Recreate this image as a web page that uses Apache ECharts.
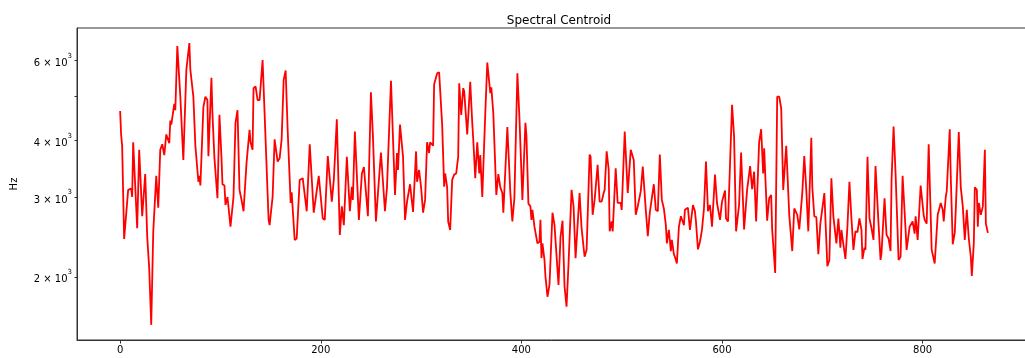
<!DOCTYPE html>
<html>
<head>
<meta charset="utf-8">
<script src="https://cdn.jsdelivr.net/npm/echarts@6/dist/echarts.min.js"></script>
<style>
html,body{margin:0;padding:0;background:#fff;}
#chart{width:1025px;height:358px;}
</style>
</head>
<body>
<div id="chart"></div>
<script>
const chartTitle = 'Spectral Centroid';
const yName = 'Hz';
const xTicks = [0, 200, 400, 600, 800];
const yTickValues = [2000, 3000, 4000, 5000, 6000];
const yLabelValues = [2000, 3000, 4000, 6000];
const frames = [0,1,2,4,8,11,12,13,17,19,22,25,27,29,31,33,36,38,40,42,44,46,49,50,51,54,55,57,60,63,66,67,69,70,73,75,78,79,80,83,85,87,88,91,92,94,97,99,101,102,104,105,107,110,113,115,117,119,121,123,126,129,130,132,133,135,137,139,142,144,148,149,152,154,157,159,161,163,165,167,170,171,174,176,179,182,186,189,193,198,202,204,207,211,213,216,219,221,223,226,229,231,232,234,238,241,243,247,250,252,255,257,260,264,266,270,274,276,277,279,282,284,286,287,289,292,295,296,298,300,302,304,306,308,309,312,313,316,318,321,323,324,326,327,329,331,333,335,337,338,340,342,343,346,349,351,352,354,356,358,359,361,364,366,369,370,372,375,377,379,381,382,386,389,391,393,396,398,401,404,405,407,409,410,411,413,414,416,418,419,420,421,423,424,425,426,428,431,433,434,437,439,441,443,445,447,450,452,454,458,460,461,463,465,468,469,471,473,474,476,478,480,482,483,485,487,488,490,491,494,496,499,500,503,506,509,510,512,514,516,519,521,524,526,528,529,532,534,536,538,540,542,544,545,547,549,550,552,553,555,557,559,562,563,566,568,571,573,574,576,578,580,582,584,586,588,590,593,595,598,600,601,603,604,606,610,612,614,617,619,622,625,628,630,632,634,637,639,641,642,645,647,649,650,653,655,657,659,661,664,667,668,670,672,675,677,680,682,684,686,689,690,692,694,696,698,699,702,705,707,709,711,714,715,716,718,719,720,723,725,727,729,731,733,735,737,739,740,742,743,745,747,749,751,753,756,758,759,762,764,766,768,769,771,773,776,778,780,783,784,787,788,790,792,793,795,796,798,801,802,804,806,809,810,812,815,817,818,820,821,823,824,827,828,830,832,833,836,838,840,842,844,846,848,849,851,852,854,855,856,858,860,862,863,865];
const centroid = [4640,4110,3890,2425,3110,3130,3000,3960,2560,3810,2720,3370,2450,2085,1568,2510,3340,2840,3810,3920,3710,4120,3940,4420,4330,4810,4660,6450,4990,3620,5715,5670,6550,5715,4990,3890,3240,3340,3180,4740,4990,4907,3690,5490,4590,3655,2980,4550,3680,3200,3180,2880,3000,2580,3000,4370,4660,3110,2956,2790,3565,4215,3960,3810,5210,5260,4907,4907,6012,4590,2671,2600,3000,4020,3590,3650,4020,5432,5700,4215,2910,3070,2413,2430,3271,3300,2790,3920,2770,3340,2690,2671,3690,2930,3271,4450,2475,2860,2600,3680,2790,3160,2956,4180,2671,3380,3490,2720,5100,4080,2650,3060,3760,2790,3150,5410,3030,3750,3440,4330,3680,2671,2930,2956,3200,2780,3780,3240,3440,3150,2770,2956,3960,3750,3960,3890,5310,5620,5650,4330,3160,3380,3150,2650,2538,3271,3360,3380,3680,5340,4550,5210,5120,4120,5380,4370,4020,3300,3960,3380,3710,3000,4590,5930,5080,5230,4590,3030,3370,3150,3060,2770,4280,3060,2650,2980,5620,4510,2956,4370,4100,2900,2860,2671,2810,2580,2600,2370,2390,2671,2200,2370,2180,2003,2020,1808,1920,2770,2600,2600,1920,2450,2660,1905,1720,2140,3110,2860,2200,3060,2560,2580,2215,2294,3720,3680,2740,2956,2930,3530,2930,2930,3060,3110,3780,3450,2520,2650,2520,3470,2910,2910,2810,4180,3060,3810,3840,3621,2740,2860,3090,3500,2810,2460,2770,2790,3200,2810,2790,3720,2956,2830,2600,2370,2538,2280,2413,2245,2215,2140,2580,2720,2600,2810,2840,2538,2880,2790,2650,2300,2390,2538,2830,3590,2790,2880,2580,3360,2910,2671,2930,2930,3100,2690,2650,4790,4080,2520,2880,3760,2545,3110,3510,3120,3410,2650,3960,4230,3380,3840,2660,2980,3030,2538,2040,4990,4990,4700,3110,3890,2740,2720,2280,2830,2740,2545,3060,3690,3110,2520,4050,3150,2720,2710,2245,2620,2600,3060,2110,2180,3300,2720,2370,2350,2690,2320,2538,2520,2190,2580,3240,2690,2294,2520,2510,2690,2538,2190,2320,2294,3680,2690,2560,2413,3510,2620,2180,2260,2980,2475,2430,2280,3271,4290,3380,2180,2215,3340,2538,2294,2580,2600,2650,2490,2720,2413,2430,3180,2740,2671,2620,3920,2294,2280,2140,2740,2850,2910,2810,2650,3000,3090,4230,3330,2360,2500,2810,4170,3150,2860,2413,2810,2430,2215,2010,2370,3150,3110,2580,2910,2740,2860,3810,2620,2500];

const seriesData = frames.map((f, i) => [f, centroid[i]]);
const font = 'DejaVu Sans';
function yFmt(v) {
  const m = Math.round(v / 1000);
  return '{a|' + m + ' \u00d7 10}{b|3}';
}

const chart = echarts.init(document.getElementById('chart'), null, {renderer: 'canvas'});
chart.setOption({
  animation: false,
  backgroundColor: '#ffffff',
  title: {
    text: chartTitle,
    left: 554,
    top: 10,
    textAlign: 'center',
    textStyle: {fontFamily: font, fontSize: 12, fontWeight: 'normal', color: '#000'}
  },
  grid: {
    left: 77, top: 28, bottom: 18, right: -6,
    containLabel: false,
    outerBoundsMode: 'none',
    show: true, borderColor: '#333', borderWidth: 1, backgroundColor: 'transparent'
  },
  xAxis: {
    type: 'value',
    min: -43, max: 908,
    splitLine: {show: false},
    axisLine: {show: true, onZero: false, lineStyle: {color: '#333', width: 1}},
    axisTick: {show: true, length: 3.5, inside: false, customValues: xTicks, lineStyle: {color: '#333'}},
    axisLabel: {customValues: xTicks, margin: 5, fontFamily: font, fontSize: 10, color: '#000'}
  },
  yAxis: {
    type: 'log',
    logBase: 10,
    min: 1452, max: 7070,
    name: yName,
    nameLocation: 'middle',
    nameRotate: 90,
    nameGap: 58,
    nameTextStyle: {fontFamily: font, fontSize: 10, color: '#000'},
    splitLine: {show: false},
    minorTick: {show: false},
    axisLine: {show: true, onZero: false, lineStyle: {color: '#333', width: 1}},
    axisTick: {show: true, length: 2.5, inside: false, customValues: yTickValues, lineStyle: {color: '#333'}},
    axisLabel: {
      customValues: yLabelValues, margin: 5, formatter: yFmt,
      rich: {
        a: {fontFamily: font, fontSize: 10, color: '#000', verticalAlign: 'bottom', lineHeight: 12},
        b: {fontFamily: font, fontSize: 7, color: '#000', verticalAlign: 'top', lineHeight: 16, padding: [0, 0, 0, 0]}
      }
    }
  },
  series: [{
    type: 'line',
    data: seriesData,
    showSymbol: false,
    smooth: false,
    clip: false,
    lineStyle: {color: '#ff0000', width: 1.8},
    itemStyle: {color: '#ff0000'}
  }]
});
</script>
</body>
</html>
